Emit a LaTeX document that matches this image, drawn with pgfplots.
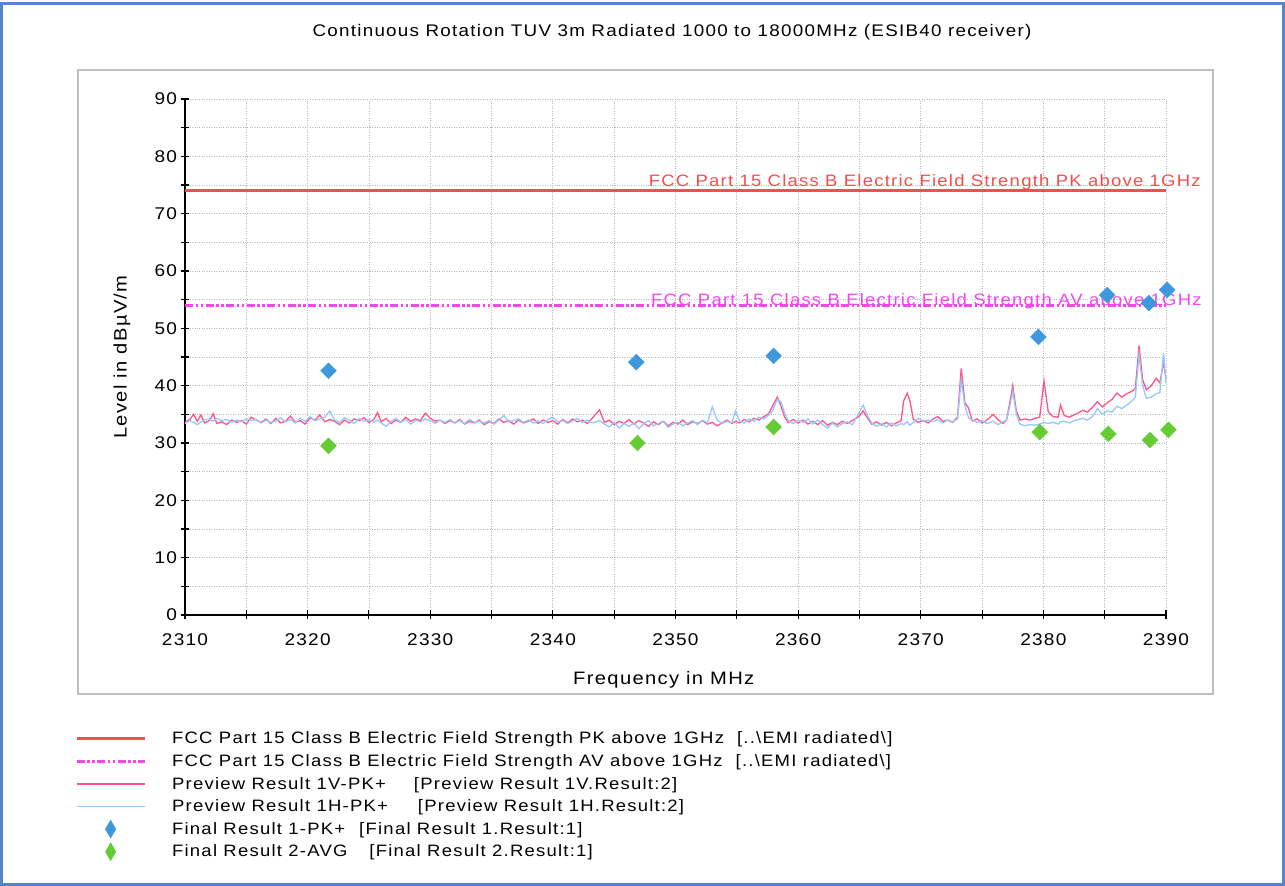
\documentclass[border=0pt]{standalone}
\usepackage{pgfplots}
\usepackage{pgfplotstable}
\pgfplotsset{compat=1.18}
\usepackage{fontspec}
\setmainfont{Liberation Sans}
\newfontfamily\chartfont[FakeStretch=1.12, LetterSpace=7.5]{Liberation Sans}
\newcommand\cf[1]{\chartfont\fontsize{#1}{#1}\selectfont}
\definecolor{borderblue}{RGB}{84,134,206}
\definecolor{boxgray}{RGB}{190,190,190}
\definecolor{pklim}{RGB}{246,78,78}
\definecolor{avlim}{RGB}{246,70,240}
\definecolor{redtrace}{RGB}{255,85,135}
\definecolor{bluetrace}{RGB}{150,200,255}
\definecolor{bluedia}{RGB}{62,152,220}
\definecolor{greendia}{RGB}{102,204,51}

\pgfplotstableread{
f r b
2310.0 33.6 33.4
2310.4 34.1 33.9
2310.7 35.0 33.6
2311.0 33.8 33.2
2311.3 34.9 33.7
2311.6 33.5 34.0
2312.0 33.9 34.2
2312.3 35.1 33.8
2312.6 33.4 34.3
2313.0 33.7 33.9
2313.4 33.2 34.1
2313.8 34.0 33.6
2314.2 33.6 34.0
2314.6 33.9 33.7
2315.0 33.3 34.2
2315.4 34.5 33.9
2315.8 34.0 34.1
2316.2 33.6 33.5
2316.6 34.2 34.0
2317.0 33.4 33.6
2317.4 34.3 33.8
2317.8 33.5 34.4
2318.2 33.8 33.7
2318.6 34.7 34.1
2319.0 33.6 33.5
2319.4 33.9 34.3
2319.8 33.3 33.8
2320.2 34.4 34.6
2320.6 34.0 33.9
2321.0 34.9 34.2
2321.4 33.7 34.5
2321.8 34.1 35.6
2322.2 33.8 34.0
2322.6 33.2 33.6
2323.0 34.0 34.4
2323.4 33.5 34.0
2323.8 34.2 33.4
2324.2 33.9 34.3
2324.6 34.4 33.8
2325.0 33.6 34.1
2325.4 34.1 33.6
2325.7 35.3 34.0
2326.0 33.7 33.5
2326.4 34.3 32.9
2326.8 33.4 33.8
2327.2 34.0 34.3
2327.6 33.6 33.6
2328.0 34.5 34.1
2328.4 33.8 33.3
2328.8 34.2 34.0
2329.2 33.9 33.7
2329.6 35.2 34.2
2330.0 34.3 33.9
2330.4 33.8 33.4
2330.8 34.0 34.0
2331.2 33.4 33.6
2331.6 33.9 34.1
2332.0 33.5 33.5
2332.4 34.1 33.9
2332.8 33.3 33.4
2333.2 33.8 34.1
2333.6 33.5 33.6
2334.0 34.0 33.8
2334.4 33.2 33.5
2334.8 33.7 33.9
2335.2 33.4 33.3
2335.6 34.2 34.0
2336.0 33.6 34.8
2336.4 33.9 33.7
2336.8 33.3 33.9
2337.2 34.0 34.2
2337.6 33.5 33.6
2338.0 33.8 34.0
2338.4 34.2 33.5
2338.8 33.4 33.9
2339.2 34.0 33.4
2339.6 33.6 34.1
2340.0 33.9 34.5
2340.4 33.3 33.7
2340.8 34.1 33.9
2341.2 33.5 33.4
2341.6 34.2 33.8
2342.0 33.7 34.3
2342.4 34.0 33.6
2342.8 33.4 34.0
2343.2 34.3 33.5
2343.8 35.8 33.9
2344.2 33.6 33.3
2344.6 34.0 32.8
2345.0 33.2 33.6
2345.4 33.8 32.6
2345.8 33.4 33.4
2346.2 34.1 32.9
2346.6 33.3 33.5
2347.0 33.9 32.5
2347.4 33.5 33.3
2347.8 32.9 33.9
2348.2 33.7 33.0
2348.6 33.2 33.4
2349.0 33.8 33.8
2349.4 33.0 32.7
2349.8 33.6 33.3
2350.2 33.3 33.6
2350.6 34.0 33.0
2351.0 33.2 33.5
2351.4 33.7 33.9
2351.8 33.4 33.2
2352.2 33.9 34.0
2352.6 33.3 33.5
2353.0 33.6 36.3
2353.4 33.0 34.0
2353.8 33.5 33.4
2354.2 34.0 33.8
2354.6 33.4 33.5
2354.9 33.8 35.6
2355.2 33.5 33.9
2355.6 34.1 33.5
2356.0 33.7 34.2
2356.4 34.3 33.8
2356.8 34.0 34.5
2357.2 34.6 34.2
2357.6 35.1 34.9
2357.9 36.4 35.5
2358.3 38.0 37.6
2358.6 36.5 37.2
2358.9 34.5 35.2
2359.2 33.6 33.9
2359.6 34.1 33.4
2360.0 33.5 34.0
2360.4 34.0 33.6
2360.8 33.3 34.2
2361.2 33.8 33.3
2361.6 33.2 34.0
2362.0 33.9 33.2
2362.4 33.1 32.6
2362.8 33.6 33.5
2363.2 33.2 32.8
2363.6 33.8 33.4
2364.0 33.4 33.7
2364.4 33.9 33.2
2364.9 34.5 35.0
2365.3 35.6 36.6
2365.7 34.2 34.6
2366.0 33.3 33.5
2366.4 33.7 32.9
2366.8 33.1 33.4
2367.2 33.6 32.8
2367.6 33.0 33.5
2368.0 33.5 33.0
2368.4 33.9 33.4
2368.6 37.3 33.2
2368.9 38.7 33.7
2369.1 37.5 33.1
2369.4 34.1 33.6
2369.8 33.6 34.3
2370.2 33.9 33.8
2370.6 33.5 34.0
2371.0 34.2 33.7
2371.4 34.6 34.1
2371.8 33.8 33.5
2372.2 34.0 34.0
2372.6 33.6 33.7
2373.0 34.5 34.2
2373.3 43.0 41.0
2373.6 37.0 36.5
2373.9 36.1 34.4
2374.2 33.8 34.0
2374.6 34.2 33.6
2375.0 33.5 33.9
2375.4 34.0 33.4
2375.9 35.0 33.8
2376.3 34.1 33.2
2376.7 33.4 33.7
2377.0 34.0 34.0
2377.3 37.5 36.8
2377.5 40.0 39.0
2377.8 35.5 35.0
2378.1 34.0 33.3
2378.5 34.2 33.0
2378.9 34.0 33.2
2379.3 34.3 33.1
2379.7 34.5 33.3
2380.05 40.8 33.6
2380.4 35.4 33.4
2380.8 34.6 33.6
2381.2 34.5 33.3
2381.4 36.6 33.7
2381.7 34.8 33.8
2382.1 34.5 33.5
2382.5 34.9 33.9
2382.9 35.3 34.1
2383.2 35.7 34.3
2383.6 35.4 34.0
2384.0 36.2 34.6
2384.4 37.2 36.0
2384.8 36.3 35.0
2385.2 37.0 35.6
2385.6 37.6 35.4
2386.0 38.7 36.4
2386.4 38.0 36.0
2386.8 38.6 36.6
2387.2 39.0 37.3
2387.5 39.5 38.0
2387.8 47.0 45.4
2388.1 41.0 40.0
2388.4 39.3 37.8
2388.8 40.0 38.0
2389.2 41.3 38.6
2389.5 40.5 38.8
2389.8 44.0 45.7
2390.0 41.3 40.4
}\traces

\begin{document}
\begin{tikzpicture}[x=1pt,y=1pt]
\useasboundingbox (0,0) rectangle (1285,886);
\fill[white] (0,0) rectangle (1285,886);
\draw[borderblue, line width=3pt] (1.5,1.5) rectangle (1283.5,882.5);
\draw[boxgray, line width=1.5pt] (78,192) rectangle (1213,816);
\node[font=\cf{16.8}] at (672,854) {Continuous Rotation TUV 3m Radiated 1000 to 18000MHz (ESIB40 receiver)};
\begin{axis}[
  at={(185pt,271pt)}, anchor=south west,
  scale only axis, width=981pt, height=516pt,
  xmin=2310, xmax=2390, ymin=0, ymax=90,
  axis x line=bottom, axis y line=left,
  x axis line style={-}, y axis line style={-},
  axis line style={black, line width=1.3pt},
  xtick={2310,2320,...,2390}, minor xtick={2315,2325,...,2385},
  ytick={0,10,...,90}, minor ytick={5,15,...,85},
  grid=both, grid style={dotted, black!28, line width=0.8pt},
  major tick length=9pt, minor tick length=9pt, tick align=center,
  tick style={black, line width=1.1pt},
  /pgf/number format/assume math mode=true,
  xticklabel style={/pgf/number format/1000 sep={}, yshift=-11pt},
  every tick label/.append style={font=\cf{17}},
  xlabel={Frequency in MHz}, ylabel={Level in dB\textmu V/m},
  label style={font=\cf{18}},
  xlabel style={at={(axis description cs:0.488,-0.126)}, anchor=center},
  ylabel style={at={(axis description cs:-0.0642,0.5)}, anchor=center, rotate=0},
  clip=false,
  legend style={at={(axis description cs:-0.1122,-0.2175)}, anchor=north west,
    draw=none, fill=none, inner sep=0pt, font=\cf{16.5},
    row sep=0pt, column sep=24pt, cells={anchor=west}},
  legend cell align=left,
]
\addplot[pklim, line width=3pt, legend image code/.code={\path[draw=none,fill=none] (0pt,-11.3pt) rectangle (68pt,11.3pt); \draw[pklim, line width=3pt] (0pt,0pt) -- (68pt,0pt);}] coordinates {(2310,74) (2390,74)};
\addlegendentry{FCC Part 15 Class B Electric Field Strength PK above 1GHz\hspace{13pt}[..\textbackslash EMI radiated\textbackslash ]}
\addplot[avlim, line width=2.5pt, dash pattern=on 8pt off 2.5pt on 2.5pt off 2.5pt on 2.5pt off 2.5pt, legend image code/.code={\path[draw=none,fill=none] (0pt,-11.3pt) rectangle (68pt,11.3pt); \draw[avlim, line width=2.5pt, dash pattern=on 8pt off 2.5pt on 2.5pt off 2.5pt on 2.5pt off 2.5pt] (0pt,0pt) -- (68pt,0pt);}] coordinates {(2310,54) (2390,54)};
\addlegendentry{FCC Part 15 Class B Electric Field Strength AV above 1GHz\hspace{13pt}[..\textbackslash EMI radiated\textbackslash ]}
\addplot[redtrace, line width=1.3pt, legend image code/.code={\path[draw=none,fill=none] (0pt,-11.3pt) rectangle (68pt,11.3pt); \draw[redtrace, line width=1.2pt] (0pt,0pt) -- (68pt,0pt);}] table[x=f, y=r] {\traces};
\addlegendentry{Preview Result 1V-PK+\hspace{28pt}[Preview Result 1V.Result:2]}
\addplot[bluetrace, line width=1.3pt, legend image code/.code={\path[draw=none,fill=none] (0pt,-11.3pt) rectangle (68pt,11.3pt); \draw[bluetrace, line width=1.2pt] (0pt,0pt) -- (68pt,0pt);}] table[x=f, y=b] {\traces};
\addlegendentry{Preview Result 1H-PK+\hspace{30pt}[Preview Result 1H.Result:2]}
\addplot[only marks, mark=square*, mark size=5.6pt, mark options={rotate=45, fill=bluedia, draw=bluedia},
  legend image code/.code={\path[draw=none,fill=none] (0pt,-11.3pt) rectangle (68pt,11.3pt); \fill[bluedia, draw=none] (34pt,9.5pt) -- (39.5pt,0pt) -- (34pt,-9.5pt) -- (28.5pt,0pt) -- cycle;}]
  coordinates {(2321.7,42.6) (2346.8,44.1) (2358.0,45.2) (2379.6,48.5) (2385.2,55.8) (2388.6,54.4) (2390.1,56.7)};
\addlegendentry{Final Result 1-PK+\hspace{14pt}[Final Result 1.Result:1]}
\addplot[only marks, mark=square*, mark size=5.6pt, mark options={rotate=45, fill=greendia, draw=greendia},
  legend image code/.code={\path[draw=none,fill=none] (0pt,-11.3pt) rectangle (68pt,11.3pt); \fill[greendia, draw=none] (34pt,9.5pt) -- (39.5pt,0pt) -- (34pt,-9.5pt) -- (28.5pt,0pt) -- cycle;}]
  coordinates {(2321.7,29.5) (2346.9,30.0) (2358.0,32.8) (2379.7,31.9) (2385.3,31.6) (2388.7,30.5) (2390.2,32.3)};
\addlegendentry{Final Result 2-AVG\hspace{22pt}[Final Result 2.Result:1]}
\node[anchor=south east, inner sep=1pt, text=pklim, font=\cf{16.5}] at (axis cs:2392.93,74) {FCC Part 15 Class B Electric Field Strength PK above 1GHz};
\node[anchor=south east, inner sep=0pt, text=avlim, font=\cf{16.5}] at (axis cs:2392.93,53.4) {FCC Part 15 Class B Electric Field Strength AV above 1GHz};
\end{axis}
\end{tikzpicture}
\end{document}
